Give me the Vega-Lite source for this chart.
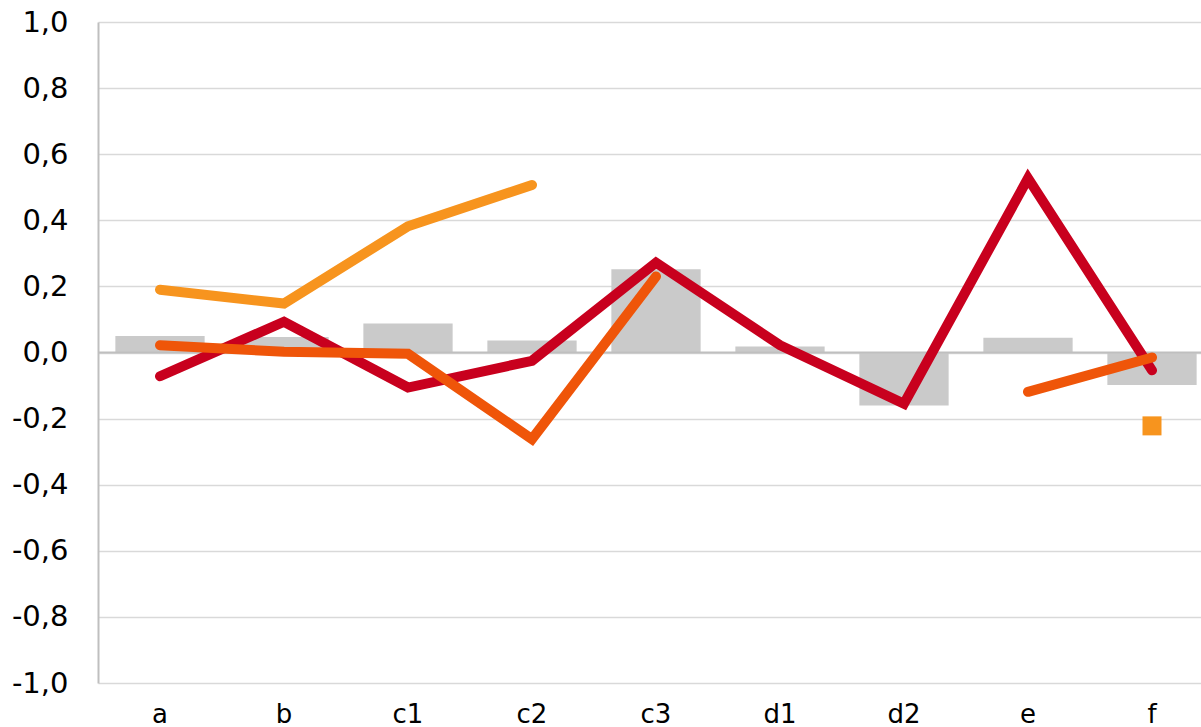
{
  "$schema": "https://vega.github.io/schema/vega-lite/v6.json",
  "autosize": "none",
  "width": 1103,
  "height": 661,
  "padding": {"left": 98, "top": 22, "right": 0, "bottom": 44},
  "background": "white",
  "config": {"view": {"stroke": null}},
  "datasets": {
    "bars": [
      {"cat": "a", "v": 0.05},
      {"cat": "b", "v": 0.047},
      {"cat": "c1", "v": 0.088},
      {"cat": "c2", "v": 0.036},
      {"cat": "c3", "v": 0.252},
      {"cat": "d1", "v": 0.018},
      {"cat": "d2", "v": -0.16},
      {"cat": "e", "v": 0.045},
      {"cat": "f", "v": -0.098}
    ],
    "lines": [
      {"cat": "a", "series": "s1", "v": -0.072},
      {"cat": "b", "series": "s1", "v": 0.093},
      {"cat": "c1", "series": "s1", "v": -0.106},
      {"cat": "c2", "series": "s1", "v": -0.025},
      {"cat": "c3", "series": "s1", "v": 0.272},
      {"cat": "d1", "series": "s1", "v": 0.022},
      {"cat": "d2", "series": "s1", "v": -0.155},
      {"cat": "e", "series": "s1", "v": 0.527},
      {"cat": "f", "series": "s1", "v": -0.054},
      {"cat": "a", "series": "s2", "v": 0.022},
      {"cat": "b", "series": "s2", "v": 0.002},
      {"cat": "c1", "series": "s2", "v": -0.004},
      {"cat": "c2", "series": "s2", "v": -0.262},
      {"cat": "c3", "series": "s2", "v": 0.23},
      {"cat": "d1", "series": "s2", "v": null},
      {"cat": "d2", "series": "s2", "v": null},
      {"cat": "e", "series": "s2", "v": -0.119},
      {"cat": "f", "series": "s2", "v": -0.015},
      {"cat": "a", "series": "s3", "v": 0.19},
      {"cat": "b", "series": "s3", "v": 0.148},
      {"cat": "c1", "series": "s3", "v": 0.382},
      {"cat": "c2", "series": "s3", "v": 0.507}
    ],
    "pts": [
      {"cat": "f", "v": -0.222}
    ]
  },
  "layer": [
    {
      "data": {"name": "bars"},
      "mark": {"type": "bar", "color": "#CACACA"},
      "encoding": {
        "x": {
          "field": "cat", "type": "nominal", "sort": null,
          "scale": {"range": [0, 1116], "paddingInner": 0.28, "paddingOuter": 0.14},
          "axis": {
            "title": null, "domain": false, "ticks": false, "labelAngle": 0,
            "labelFont": "DejaVu Sans", "labelFontSize": 26, "labelColor": "#000000",
            "labelPadding": 18
          }
        },
        "y": {
          "field": "v", "type": "quantitative",
          "scale": {"domain": [-1, 1], "nice": false, "zero": false},
          "axis": {
            "title": null,
            "values": [-1, -0.8, -0.6, -0.4, -0.2, 0, 0.2, 0.4, 0.6, 0.8, 1],
            "labelExpr": "replace(replace(format(datum.value, '.1f'), '.', ','), '\u2212', '-')",
            "grid": true, "gridColor": "#D9D9D9", "gridWidth": 1.5,
            "domain": true, "domainColor": "#BFBFBF", "domainWidth": 2,
            "ticks": false,
            "labelFont": "DejaVu Sans", "labelFontSize": 29, "labelColor": "#000000",
            "labelPadding": 30
          }
        }
      }
    },
    {
      "data": {"values": [{"z": 0}]},
      "mark": {"type": "rule", "color": "#BFBFBF", "strokeWidth": 2},
      "encoding": {"y": {"field": "z", "type": "quantitative"}}
    },
    {
      "data": {"name": "lines"},
      "mark": {"type": "line", "strokeWidth": 10, "strokeCap": "round", "strokeJoin": "miter", "invalid": "break-paths-show-domains"},
      "encoding": {
        "x": {"field": "cat", "type": "nominal", "sort": null},
        "y": {"field": "v", "type": "quantitative"},
        "color": {
          "field": "series", "type": "nominal", "legend": null,
          "scale": {"domain": ["s1", "s2", "s3"], "range": ["#C8001E", "#EF5509", "#F7941E"]}
        },
        "order": {"field": "series"}
      }
    },
    {
      "data": {"name": "pts"},
      "mark": {"type": "point", "shape": "square", "filled": true, "size": 361, "color": "#F7941E", "opacity": 1},
      "encoding": {
        "x": {"field": "cat", "type": "nominal", "sort": null},
        "y": {"field": "v", "type": "quantitative"}
      }
    }
  ]
}
